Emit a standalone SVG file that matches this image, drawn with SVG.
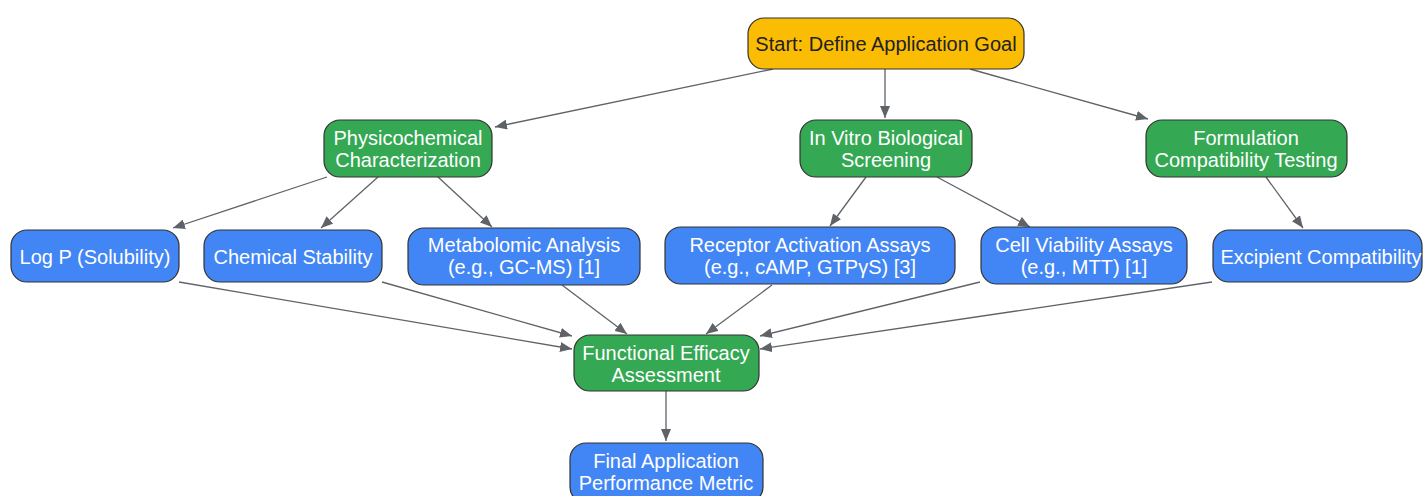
<svg xmlns="http://www.w3.org/2000/svg" width="1423" height="496" viewBox="0 0 1423 496">
<style>
.n rect{stroke:#333;stroke-width:1.2}
.y rect{fill:#FBBC04}
.g rect{fill:#34A853}
.b rect{fill:#4285F4}
text{font-family:"Liberation Sans",Arial,sans-serif;font-size:20px;text-anchor:middle;fill:#fff}
.y text{fill:#222}
.e line{stroke:#5f6368;stroke-width:1.3;marker-end:url(#a)}
</style>
<defs>
<marker id="a" viewBox="0 0 12 10" refX="12" refY="5" markerWidth="12" markerHeight="10" markerUnits="userSpaceOnUse" orient="auto">
<path d="M0,0 L12,5 L0,10 z" fill="#5f6368"/>
</marker>
</defs>
<rect width="1423" height="496" fill="#fff"/>
<g class="e">
<line x1="773" y1="69" x2="495" y2="127"/>
<line x1="885" y1="69" x2="885" y2="118"/>
<line x1="970" y1="69" x2="1148" y2="119"/>
<line x1="327" y1="177" x2="173" y2="228"/>
<line x1="378" y1="177" x2="321" y2="228"/>
<line x1="438" y1="177" x2="492" y2="227"/>
<line x1="866" y1="177" x2="830" y2="226"/>
<line x1="937" y1="177" x2="1030" y2="227"/>
<line x1="1266" y1="177" x2="1303" y2="228"/>
<line x1="179" y1="282" x2="572" y2="349"/>
<line x1="382" y1="282" x2="572" y2="336"/>
<line x1="562" y1="285" x2="627" y2="334"/>
<line x1="772" y1="285" x2="706" y2="334"/>
<line x1="980" y1="282" x2="760" y2="336"/>
<line x1="1212" y1="282" x2="760" y2="349"/>
<line x1="666" y1="391" x2="666" y2="441"/>
</g>
<g id="start" class="n y"><rect x="748" y="18" width="276" height="51" rx="16"/><text x="886" y="51">Start: Define Application Goal</text></g>
<g id="physico" class="n g"><rect x="324" y="120" width="168" height="57" rx="16"/><text x="408" y="145">Physicochemical</text><text x="408" y="167">Characterization</text></g>
<g id="invitro" class="n g"><rect x="800" y="120" width="172" height="57" rx="16"/><text x="886" y="145">In Vitro Biological</text><text x="886" y="167">Screening</text></g>
<g id="formulation" class="n g"><rect x="1146" y="120" width="201" height="57" rx="16"/><text x="1246" y="145">Formulation</text><text x="1246" y="167">Compatibility Testing</text></g>
<g id="logp" class="n b"><rect x="11" y="230" width="168" height="52" rx="16"/><text x="95" y="264">Log P (Solubility)</text></g>
<g id="chem" class="n b"><rect x="204" y="230" width="178" height="52" rx="16"/><text x="293" y="264">Chemical Stability</text></g>
<g id="metab" class="n b"><rect x="408" y="228" width="232" height="57" rx="16"/><text x="524" y="252">Metabolomic Analysis</text><text x="524" y="274">(e.g., GC-MS) [1]</text></g>
<g id="receptor" class="n b"><rect x="665" y="227" width="290" height="57" rx="16"/><text x="810" y="252">Receptor Activation Assays</text><text x="810" y="274">(e.g., cAMP, GTPγS) [3]</text></g>
<g id="cell" class="n b"><rect x="981" y="227" width="206" height="57" rx="16"/><text x="1084" y="252">Cell Viability Assays</text><text x="1084" y="274">(e.g., MTT) [1]</text></g>
<g id="excipient" class="n b"><rect x="1213" y="230" width="209" height="52" rx="16"/><text x="1321" y="264">Excipient Compatibility</text></g>
<g id="functional" class="n g"><rect x="574" y="335" width="185" height="56" rx="16"/><text x="666" y="360">Functional Efficacy</text><text x="666" y="382">Assessment</text></g>
<g id="final" class="n b"><rect x="570" y="443" width="193" height="60" rx="16"/><text x="666" y="468">Final Application</text><text x="666" y="490">Performance Metric</text></g>
</svg>
